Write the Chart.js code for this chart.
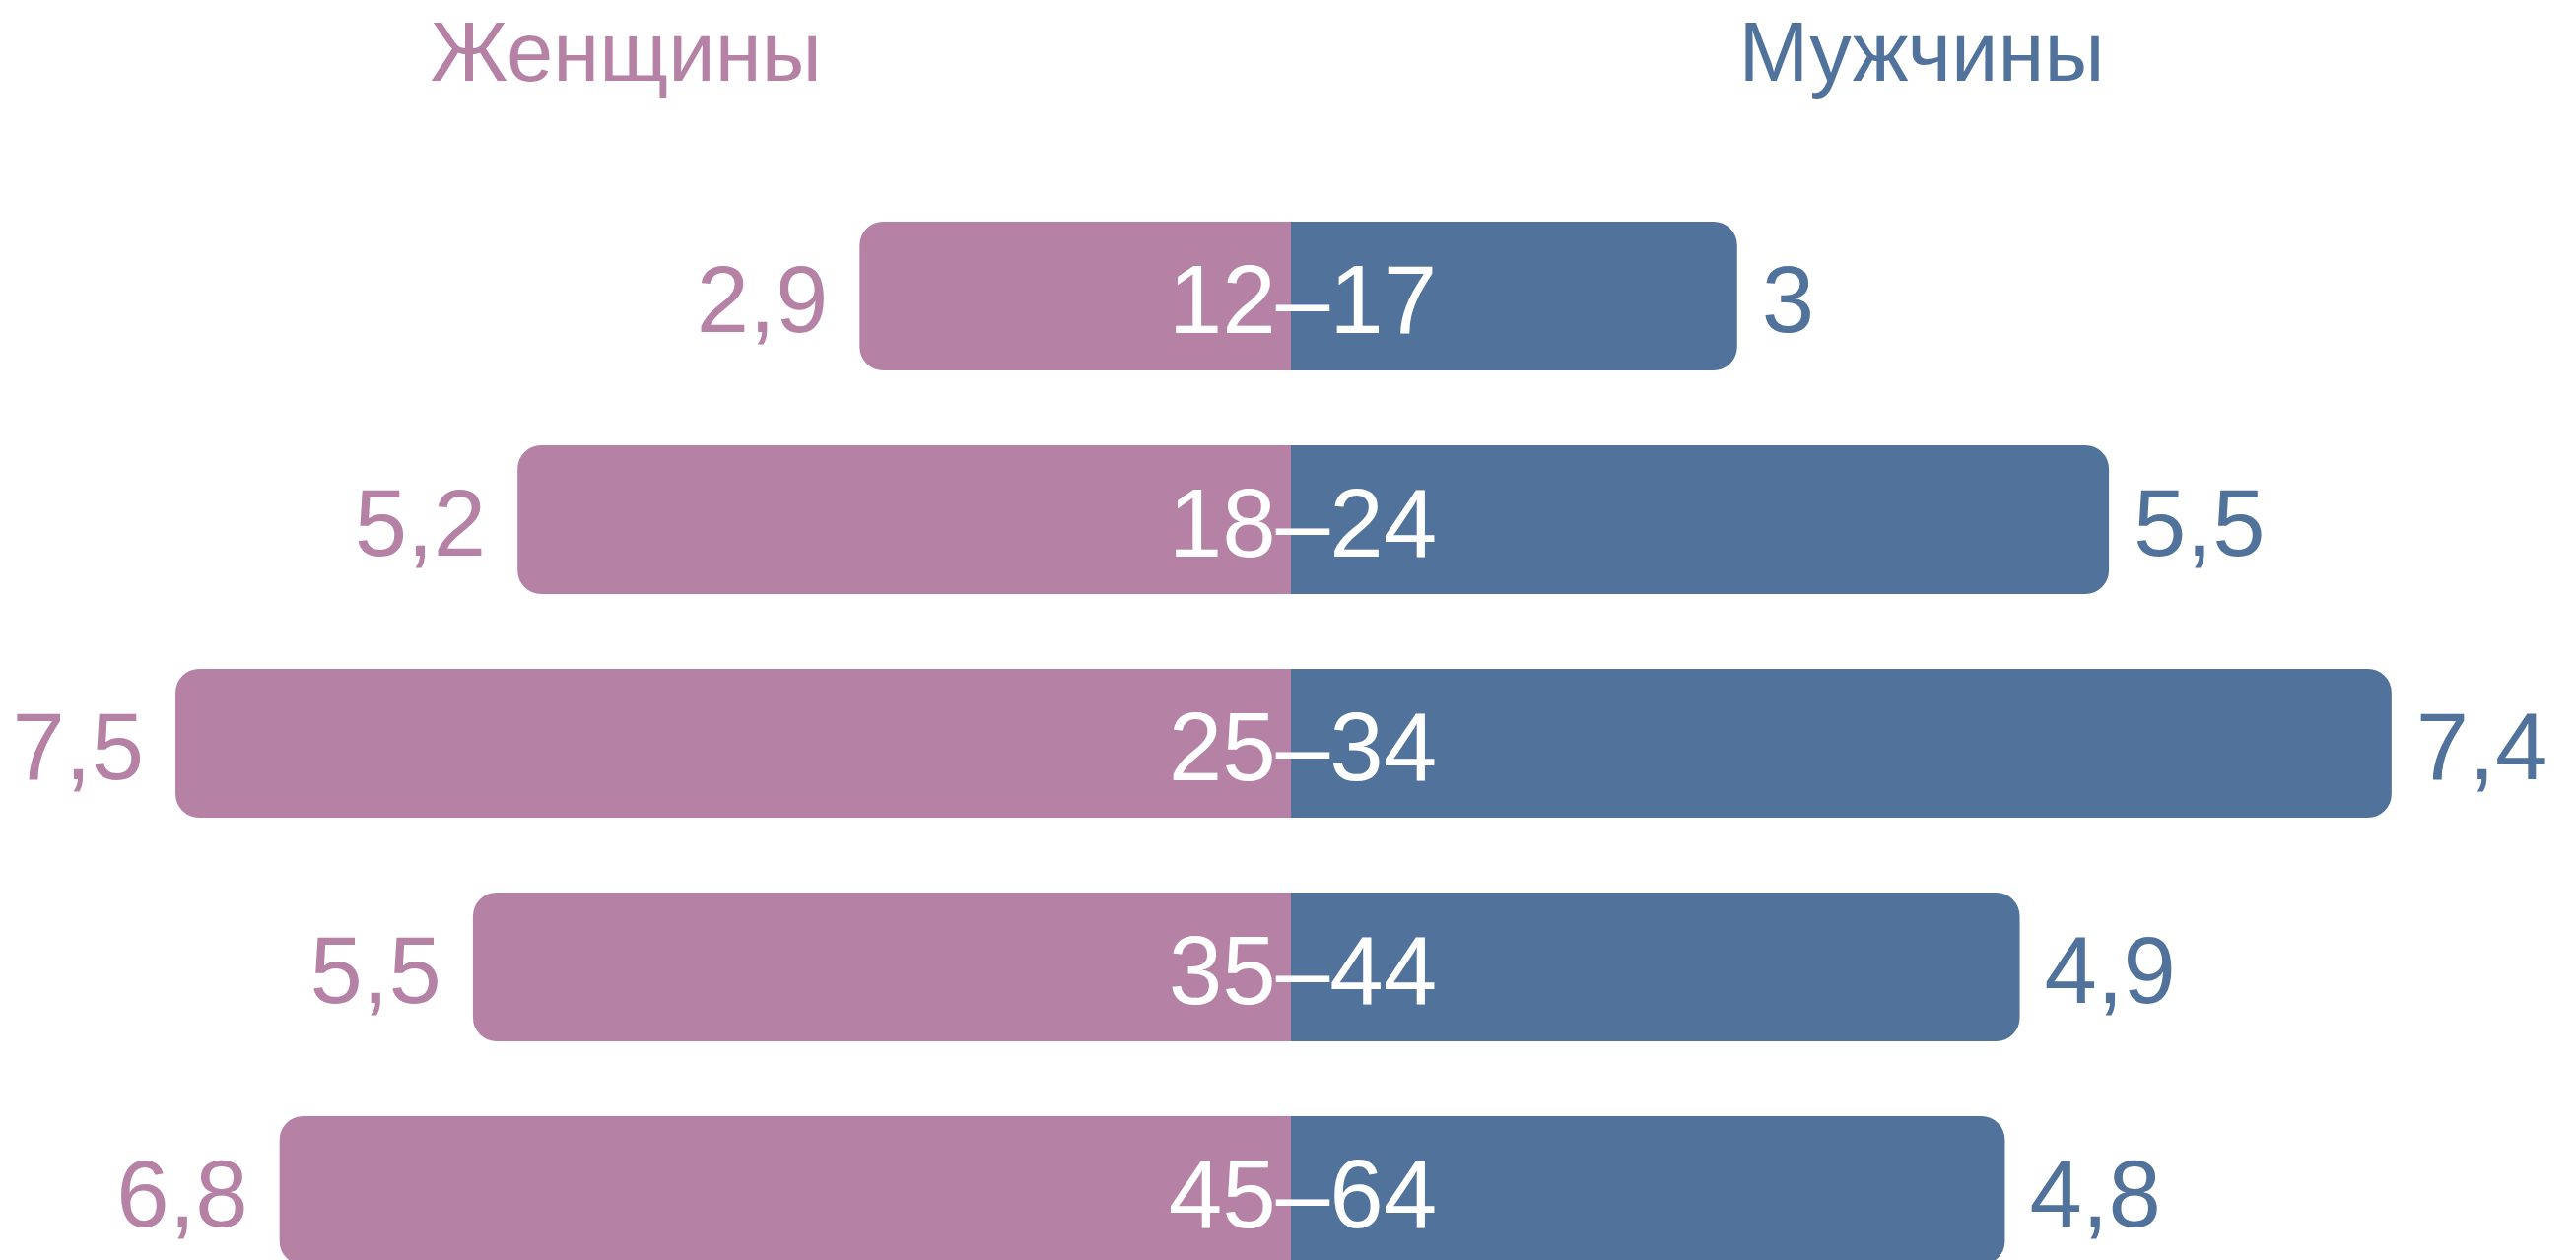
<!DOCTYPE html>
<html lang="ru">
<head>
<meta charset="utf-8">
<script src="https://cdn.jsdelivr.net/npm/chart.js@4/dist/chart.umd.min.js"></script>
<style>
  html, body { margin: 0; padding: 0; background: #fff; overflow: hidden; }
  #wrap { width: 2614px; height: 1322px; position: relative; }
</style>
</head>
<body>
<div id="wrap"><canvas id="ageChart"></canvas></div>
<script>
// age groups and shares (%)
const ageGroups = ['12–17', '18–24', '25–34', '35–44', '45–64'];
const women = [2.9, 5.2, 7.5, 5.5, 6.8];
const men = [3, 5.5, 7.4, 4.9, 4.8];
const seriesNames = ['Женщины', 'Мужчины'];

const pink = '#b581a5';
const blue = '#51729b';
const fontFamily = '"Liberation Sans", Arial, sans-serif';

const fmt = v => String(v).replace('.', ',');

// headers, value labels and age labels
const labelsPlugin = {
  id: 'butterflyLabels',
  afterDatasetsDraw(chart) {
    const ctx = chart.ctx;
    const w = chart.width;
    ctx.save();

    ctx.font = '85px ' + fontFamily;
    ctx.textAlign = 'center';
    ctx.textBaseline = 'alphabetic';
    ctx.fillStyle = pink;
    ctx.fillText(seriesNames[0], w * 0.243, 82);
    ctx.fillStyle = blue;
    ctx.fillText(seriesNames[1], w * 0.746, 82);

    ctx.font = '96px ' + fontFamily;
    chart.getDatasetMeta(0).data.forEach((bar, i) => {
      ctx.fillStyle = pink;
      ctx.textAlign = 'right';
      ctx.fillText(fmt(women[i]), bar.x - 32, bar.y + 36);
    });
    chart.getDatasetMeta(1).data.forEach((bar, i) => {
      ctx.fillStyle = blue;
      ctx.textAlign = 'left';
      ctx.fillText(fmt(men[i]), bar.x + 25, bar.y + 36);
    });

    const zeroX = chart.scales.x.getPixelForValue(0);
    ctx.font = '98px ' + fontFamily;
    ctx.fillStyle = '#ffffff';
    ctx.textAlign = 'center';
    ageGroups.forEach((g, i) => {
      const y = chart.scales.y.getPixelForValue(i);
      ctx.fillText(g, zeroX + 12, y + 37);
    });

    ctx.restore();
  }
};

new Chart(document.getElementById('ageChart').getContext('2d'), {
  type: 'bar',
  data: {
    labels: ageGroups,
    datasets: [
      {
        label: seriesNames[0],
        data: women.map(v => -v),
        backgroundColor: pink,
        borderRadius: 24,
        borderWidth: 0,
        grouped: false,
        barPercentage: 0.665,
        categoryPercentage: 1
      },
      {
        label: seriesNames[1],
        data: men,
        backgroundColor: blue,
        borderRadius: 24,
        borderWidth: 0,
        grouped: false,
        barPercentage: 0.665,
        categoryPercentage: 1
      }
    ]
  },
  options: {
    indexAxis: 'y',
    responsive: true,
    maintainAspectRatio: false,
    animation: false,
    layout: { padding: { top: 187, left: 6, right: 0, bottom: 0 } },
    scales: {
      x: { type: 'linear', display: false, min: -8.64, max: 8.64 },
      y: { display: false }
    },
    plugins: {
      legend: { display: false },
      tooltip: { enabled: false }
    }
  },
  plugins: [labelsPlugin]
});
</script>
</body>
</html>
